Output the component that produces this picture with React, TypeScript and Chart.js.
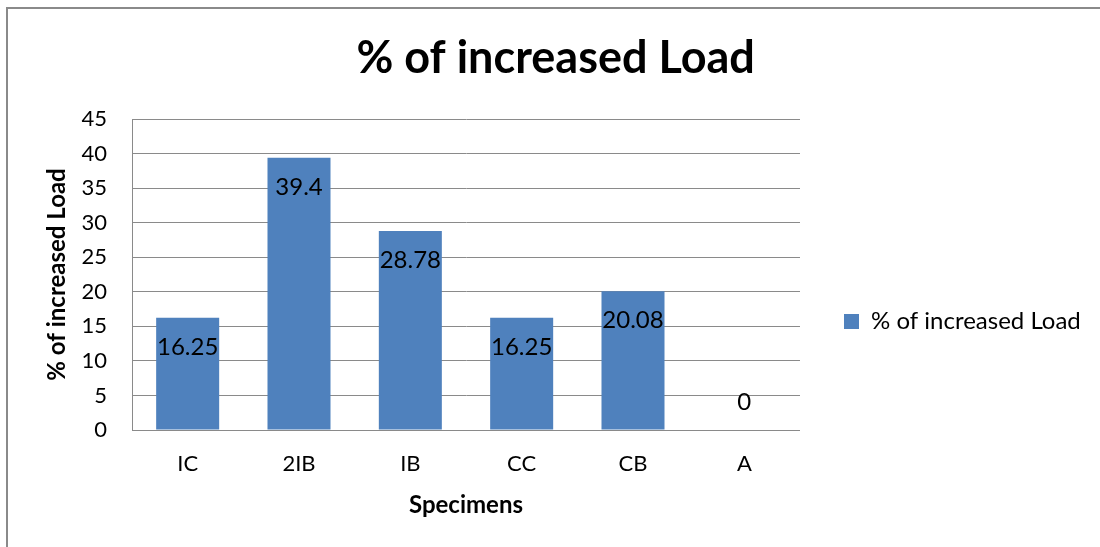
import React, { useEffect, useRef } from "react";
import { Chart, registerables } from "chart.js";

Chart.register(...registerables);

const categories = ["IC", "2IB", "IB", "CC", "CB", "A"];
const increasedLoad = [16.25, 39.4, 28.78, 16.25, 20.08, 0];
const yTicks = [0, 5, 10, 15, 20, 25, 30, 35, 40, 45];
const seriesName = "% of increased Load";
const chartTitle = "% of increased Load";
const xTitle = "Specimens";
const yTitle = "% of increased Load";

const FONT = "Lato";
const LEGEND_SHIFT = 27;
const TITLE_SHIFT = 8;

const framePlugin = {
  id: "frame",
  afterLayout(chart: any) {
    if (chart.legend) {
      chart.legend.left += LEGEND_SHIFT;
      chart.legend.right += LEGEND_SHIFT;
    }
    if (chart.titleBlock) {
      chart.titleBlock.left += TITLE_SHIFT;
      chart.titleBlock.right += TITLE_SHIFT;
    }
  },
  beforeDraw(chart: any) {
    const ctx = chart.ctx;
    ctx.save();
    ctx.fillStyle = "#ffffff";
    ctx.fillRect(0, 0, chart.width, chart.height);
    ctx.strokeStyle = "#8a8a8a";
    ctx.lineWidth = 2;
    ctx.strokeRect(7, 8, chart.width + 50, chart.height + 50);
    ctx.restore();
  },
};

const labelPlugin = {
  id: "barLabels",
  afterDatasetsDraw(chart: any) {
    const ctx = chart.ctx;
    const meta = chart.getDatasetMeta(0);
    const data = chart.data.datasets[0].data as number[];
    ctx.save();
    ctx.font = `24px ${FONT}`;
    ctx.fillStyle = "#000000";
    ctx.textAlign = "center";
    ctx.textBaseline = "middle";
    meta.data.forEach((el: any, i: number) => {
      const h = el.base - el.y;
      const y = h > 40 ? el.y + 29.5 : el.y - 28;
      ctx.fillText(String(data[i]), el.x, y);
    });
    ctx.restore();
  },
};

export default function App() {
  const ref = useRef<HTMLCanvasElement | null>(null);
  useEffect(() => {
    if (!ref.current) return;
    const chart = new Chart(ref.current, {
      type: "bar",
      data: {
        labels: categories,
        datasets: [
          {
            label: seriesName,
            data: increasedLoad,
            backgroundColor: "#4F81BD",
            borderWidth: 0,
            barPercentage: 0.566,
            categoryPercentage: 1,
          },
        ],
      },
      options: {
        animation: false,
        responsive: false,
        devicePixelRatio: 1,
        layout: { padding: { left: 43, right: 47.67, top: 0, bottom: 0 } },
        plugins: {
          title: {
            display: true,
            text: chartTitle,
            color: "#000000",
            font: { family: FONT, size: 45, weight: "bold" },
            padding: { top: 31, bottom: 34 },
          },
          legend: {
            position: "right",
            title: {
              display: true,
              text: " ",
              font: { family: FONT, size: 10 },
              padding: { top: 84, bottom: 0 },
            },
            labels: {
              color: "#000000",
              font: { family: FONT, size: 24 },
              boxWidth: 15,
              boxHeight: 15,
              padding: 17,
            },
          },
          tooltip: { enabled: false },
        },
        scales: {
          x: {
            grid: { display: false, drawTicks: false },
            border: { display: true, color: "#8a8a8a", width: 1 },
            ticks: {
              color: "#000000",
              font: { family: FONT, size: 22 },
              padding: 21,
            },
            title: {
              display: true,
              text: xTitle,
              color: "#000000",
              font: { family: FONT, size: 24, weight: "bold" },
              padding: { top: 0, bottom: 27.6 },
            },
            afterFit: (scale: any) => {
              scale.height = 117;
            },
          },
          y: {
            min: 0,
            max: 45,
            afterBuildTicks: (scale: any) => {
              scale.ticks = yTicks.map((v) => ({ value: v }));
            },
            grid: { color: "#8a8a8a", lineWidth: 1, drawTicks: false },
            border: { display: true, color: "#8a8a8a", width: 1 },
            ticks: {
              color: "#000000",
              font: { family: FONT, size: 22 },
              padding: 25,
            },
            title: {
              display: true,
              text: yTitle,
              color: "#000000",
              font: { family: FONT, size: 24, weight: "bold" },
              padding: { top: 0, bottom: 0 },
            },
            afterFit: (scale: any) => {
              scale.width = 89;
            },
          },
        },
      },
      plugins: [framePlugin, labelPlugin],
    });
    return () => chart.destroy();
  }, []);
  return (
    <div style={{ position: "fixed", left: 0, top: 0, width: 1100, height: 547, background: "#fff" }}>
      <canvas ref={ref} width={1100} height={547} style={{ display: "block" }} />
    </div>
  );
}
